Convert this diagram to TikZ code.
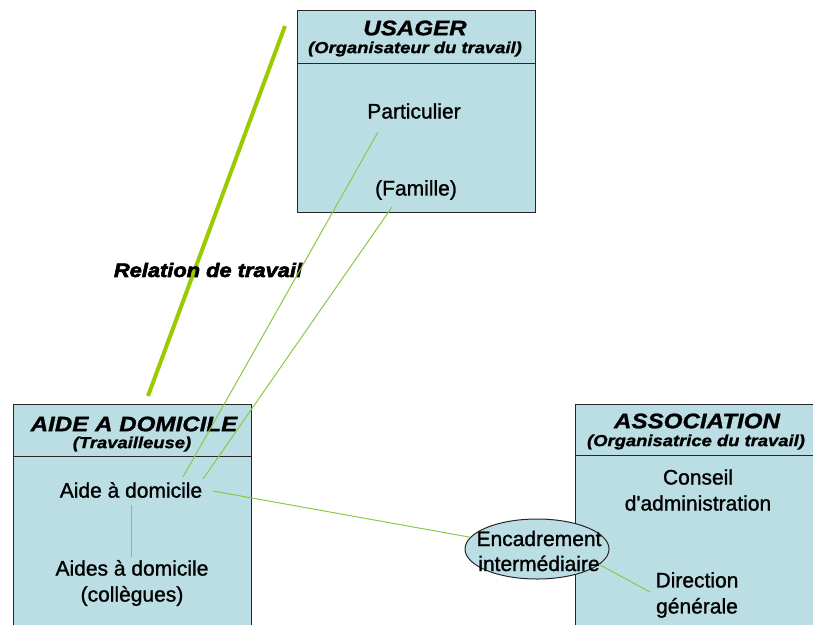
\documentclass[tikz,border=0pt]{standalone}
\usepackage{fontspec}
\setmainfont{Liberation Sans}
\newfontfamily\ttlfont{Liberation Sans}[FakeStretch=1.15,FakeBold=1.2]
\newfontfamily\relfont{Liberation Sans}[FakeStretch=1.12,FakeBold=3]
\newfontfamily\bodyfont{Liberation Sans}[FakeBold=1.2]
\usetikzlibrary{shapes.geometric}
\definecolor{boxfill}{RGB}{186,222,228}
\definecolor{thickgreen}{RGB}{153,204,0}
\definecolor{thingreen}{RGB}{140,200,70}
\begin{document}
\begin{tikzpicture}[x=1pt,y=-1pt,
  box/.style={draw=black!85,fill=boxfill,line width=1pt,rectangle,inner sep=0pt},
  divider/.style={draw=black!85,line width=1pt},
  ttl/.style={inner sep=0pt,font=\ttlfont\bfseries\itshape\fontsize{21}{24}\selectfont},
  sub/.style={inner sep=0pt,font=\ttlfont\bfseries\itshape\fontsize{16}{18}\selectfont},
  body/.style={inner sep=0pt,align=center,font=\bodyfont\fontsize{21}{26}\selectfont},
  thin/.style={draw=thingreen,line width=1pt},
  thick/.style={draw=thickgreen,line width=4pt}]
\useasboundingbox (0,0) rectangle (813,624);
\fill[white] (0,0) rectangle (813,624);
% boxes
\node[box,minimum width=238pt,minimum height=202pt] (usager) at (416,111) {};
\node[box,minimum width=238pt,minimum height=236pt] (aide) at (132,522) {};
\node[box,minimum width=255pt,minimum height=236pt] (assoc) at (702.5,522) {};
\coordinate (uDl) at (297,63); \coordinate (uDr) at (535,63);
\coordinate (aDl) at (13,456); \coordinate (aDr) at (251,456);
\coordinate (sDl) at (575,455); \coordinate (sDr) at (830,455);
\draw[divider] (uDl) -- (uDr);
\draw[divider] (aDl) -- (aDr);
\draw[divider] (sDl) -- (sDr);
% headers
\node[ttl] (usagerT) at (415,28) {USAGER};
\node[sub] (usagerS) at (415,49) {(Organisateur du travail)};
\node[ttl] (aideT) at (134,424) {AIDE A DOMICILE};
\node[sub] (aideS) at (132,444) {(Travailleuse)};
\node[ttl] (assocT) at (697,421) {ASSOCIATION};
\node[sub] (assocS) at (696,442) {(Organisatrice du travail)};
% body texts
\node[body] (part) at (414,111) {Particulier};
\node[body] (fam) at (416,190) {(Famille)};
\node[body] (aidedom) at (131,490) {Aide à domicile};
\node[body] (aides) at (132,583) {Aides à domicile\\(collègues)};
\node[body] (conseil) at (698,490) {Conseil\\d'administration};
\node[body] (direction) at (697,595) {Direction\\générale};
% relation label and thick line
\coordinate (relTop) at (285,26);
\coordinate (relBot) at (148,396);
\draw[thick] (relBot) -- (relTop);
\node[inner sep=0pt,font=\relfont\bfseries\itshape\fontsize{19.5}{22}\selectfont] (rel) at (208,270) {Relation de travail};
% thin connectors
\coordinate (p1) at (378,132); \coordinate (a1) at (183,477);
\coordinate (f1) at (392,207); \coordinate (a2) at (203,479);
\draw[thin] (p1) -- (a1);
\draw[thin] (f1) -- (a2);
\coordinate (a3) at (213,491);
\coordinate (a4) at (131,505); \coordinate (a5) at (131,557);
\draw[thin] (a4) -- (a5);
% ellipse
\node[ellipse,draw=black!85,fill=boxfill,line width=1pt,minimum width=144pt,minimum height=60pt,inner sep=0pt] (enc) at (537,549) {};
\draw[thin] (a3) -- (enc.170);
\node[body,font=\bodyfont\fontsize{21}{25}\selectfont] (encT) at (539,551) {Encadrement\\intermédiaire};
\coordinate (d1) at (650,592);
\draw[thin] (enc.-14) -- (d1);
\end{tikzpicture}
\end{document}
